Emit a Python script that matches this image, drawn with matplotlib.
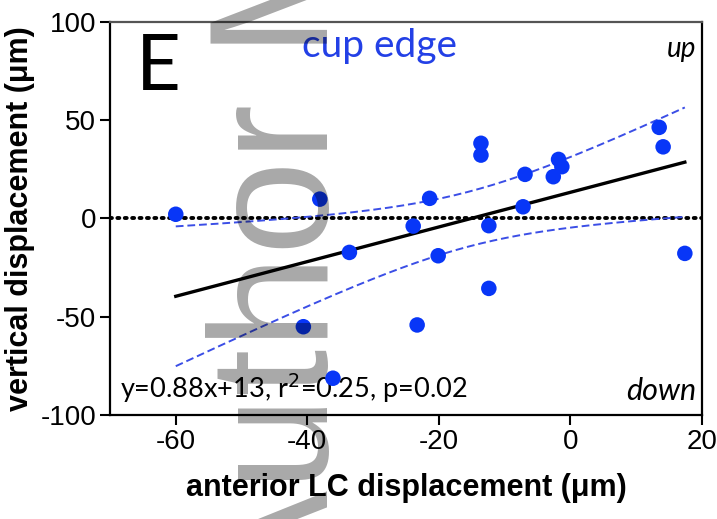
import numpy as np
import matplotlib
matplotlib.use("Agg")
import matplotlib.pyplot as plt

# ---- data ----
x_disp = [-60.0, -38.1, -33.6, -40.6, -36.1, -13.6, -13.6, -21.4, -23.9, -12.4,
          -20.1, -12.4, -23.3, -6.9, -7.2, -1.8, -1.3, -2.6, 13.5, 14.1, 17.4]
y_disp = [2.1, 9.8, -17.3, -55.1, -81.3, 38.2, 32.2, 10.2, -3.9, -3.7,
          -19.0, -35.6, -54.2, 22.4, 5.9, 30.0, 26.3, 21.2, 46.3, 36.4, -17.8]
xticks = [-60, -40, -20, 0, 20]
yticks = [-100, -50, 0, 50, 100]
stats_text = "y=0.88x+13, r$^2$=0.25, p=0.02"

x = np.array(x_disp)
y = np.array(y_disp)

fig = plt.figure(figsize=(7.17, 5.19), dpi=100)
ax = fig.add_axes([0.1534, 0.2004, 0.979 - 0.1534, 0.958 - 0.2004])

# regression + 95% CI of the mean
slope, intercept = np.polyfit(x, y, 1)
n = len(x)
resid = y - (slope * x + intercept)
s = np.sqrt(np.sum(resid ** 2) / (n - 2))
xm = x.mean()
sxx = np.sum((x - xm) ** 2)
t = 2.093
xs = np.linspace(x.min(), x.max(), 200)
ys = slope * xs + intercept
half = t * s * np.sqrt(1.0 / n + (xs - xm) ** 2 / sxx)

ax.axhline(0, color="black", lw=2.8, ls=(0, (0.5, 1.4)), dash_capstyle="round", zorder=2)
ax.plot(xs, ys + half, color="#3b4ee6", lw=1.4, ls=(0, (4, 2)), zorder=3)
ax.plot(xs, ys - half, color="#3b4ee6", lw=1.4, ls=(0, (4, 2)), zorder=3)
ax.plot(xs, ys, color="black", lw=2.4, zorder=4)
ax.scatter(x, y, s=125, color="#0836f7", edgecolors="none", zorder=5)

ax.set_xlim(-70, 20)
ax.set_ylim(-100, 100)
ax.set_xticks(xticks)
ax.set_yticks(yticks)
ax.set_xticklabels([str(v) for v in xticks], fontsize=20, family="Liberation Sans")
ax.set_yticklabels([str(v) for v in yticks], fontsize=20, family="Liberation Sans")
ax.tick_params(direction="out", length=7, width=1.5, pad=3)
for sp in ax.spines.values():
    sp.set_linewidth(1.6)
ax.spines["top"].set_color("#555555")

ax.set_xlabel("anterior LC displacement (\u03bcm)", fontsize=22, fontweight="bold",
              family="Liberation Sans", labelpad=13)
ax.set_ylabel("vertical displacement (\u03bcm)", fontsize=22, fontweight="bold",
              family="Liberation Sans", labelpad=4)

ax.text(0.043, 0.972, "E", transform=ax.transAxes, fontsize=56, family="Lato",
        ha="left", va="top")
ax.text(0.455, 0.985, "cup edge", transform=ax.transAxes, fontsize=28, family="Lato",
        color="#2340e6", ha="center", va="top")
ax.text(0.99, 0.965, "up", transform=ax.transAxes, fontsize=20, family="Lato",
        style="italic", ha="right", va="top")
ax.text(0.99, 0.025, "down", transform=ax.transAxes, fontsize=22, family="Lato",
        style="italic", ha="right", va="bottom")
ax.text(0.017, 0.025, stats_text, transform=ax.transAxes, fontsize=19.5, family="Lato",
        ha="left", va="bottom")

# watermark
fig.text(328 / 717, 1 - 603 / 519, "Author Manuscript", rotation=90,
         rotation_mode="anchor", ha="left", va="baseline", fontsize=122,
         family="Liberation Sans", color="black", alpha=0.34, zorder=20)

fig.savefig("out.png", dpi=100)
